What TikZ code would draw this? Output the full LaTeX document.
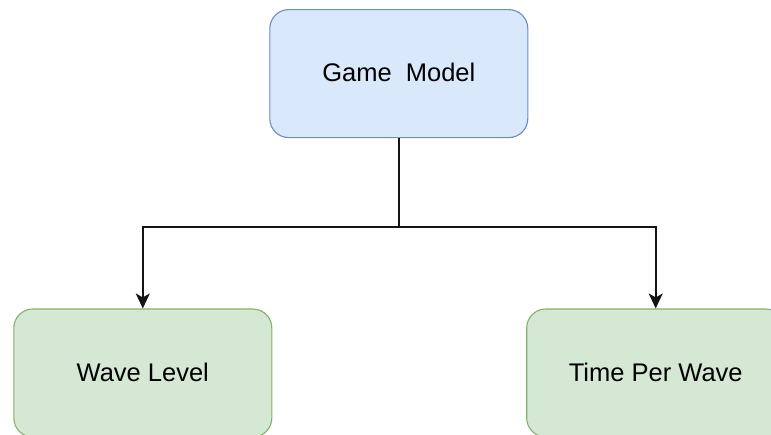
\documentclass[tikz,border=0pt]{standalone}
\usepackage{fontspec}
\setmainfont{Liberation Sans}
\usetikzlibrary{arrows.meta}
\definecolor{modelfill}{HTML}{DAE8FC}
\definecolor{modeldraw}{HTML}{6C8EBF}
\definecolor{leaffill}{HTML}{D5E8D4}
\definecolor{leafdraw}{HTML}{82B366}
\begin{document}
\begin{tikzpicture}[x=1pt,y=-1pt,
  box/.style={rounded corners=19pt, line width=1.1pt, minimum width=258pt,
    minimum height=128pt, inner sep=0pt, text=black,
    font=\fontsize{25.5}{30}\selectfont},
  modelbox/.style={box, draw=modeldraw, fill=modelfill},
  leafbox/.style={box, draw=leafdraw, fill=leaffill},
  wire/.style={line width=1.7pt, draw=black!92},
  link/.style={wire, -{Stealth[length=15pt, width=14pt, inset=4pt]}}]
  \useasboundingbox (0,0) rectangle (771,434);
  \clip (0,0) rectangle (771,434);
  \fill[white] (0,0) rectangle (771,434);

  % boxes
  \node[modelbox] (model) at (398.8,73.6) {\raisebox{2pt}{Game\ \ Model}};
  \node[leafbox] (wave) at (142.8,373) {\raisebox{2pt}{Wave Level}};
  \node[leafbox] (time) at (655.7,373) {\raisebox{2pt}{Time Per Wave}};

  % tree connector
  \coordinate (split) at (398.8,227);
  \draw[wire] (model.south) -- (split);
  \draw[link] (split) -| (wave.north);
  \draw[link] (split) -| (time.north);
\end{tikzpicture}
\end{document}
